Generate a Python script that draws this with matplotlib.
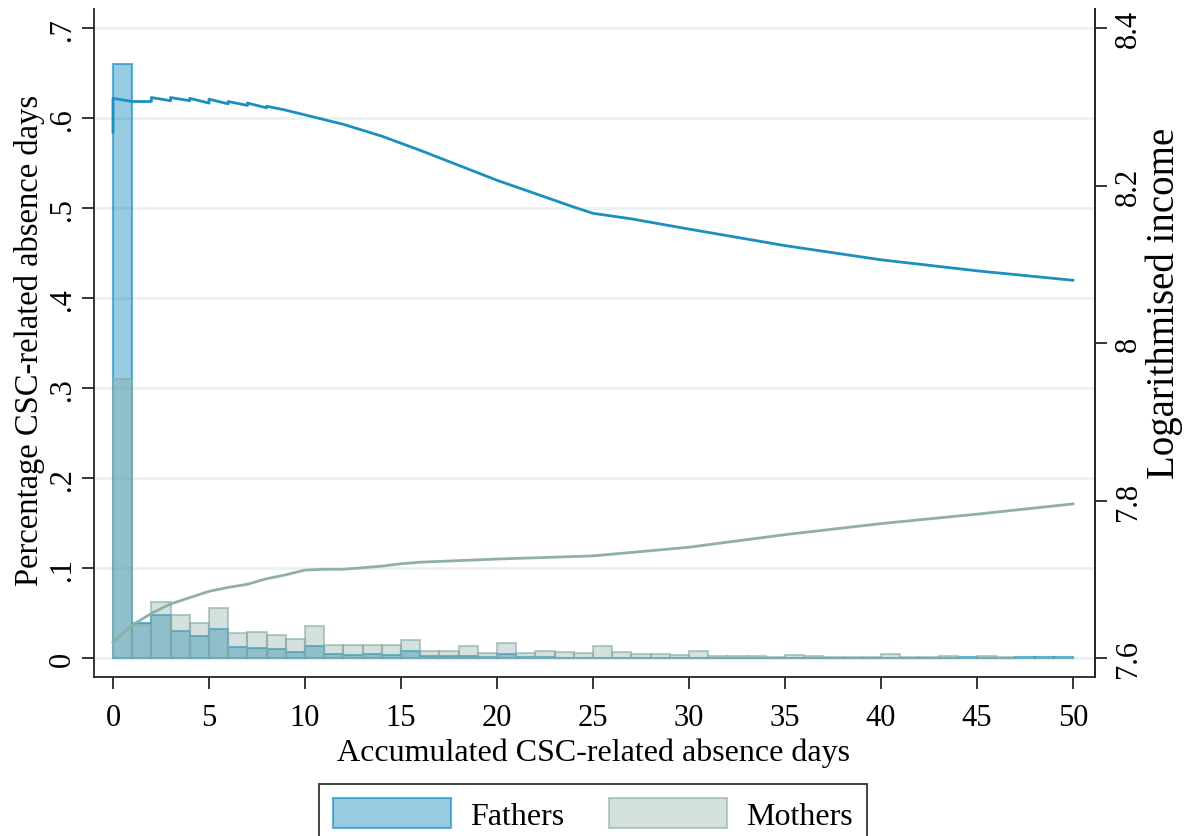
"""
Share of CSC-related absence days (bars) and log income (lines)
for fathers and mothers, by accumulated absence days.
"""
import numpy as np
import matplotlib
matplotlib.use("Agg")
import matplotlib.pyplot as plt

plt.rcParams['font.family'] = ['Liberation Serif', 'DejaVu Serif']

# histogram bins: [k, k+1) days
BINS = list(range(50))
FATHERS_SHARE = [0.660, 0.039, 0.048, 0.030, 0.025, 0.033, 0.013, 0.011, 0.010, 0.0065,
                 0.014, 0.005, 0.004, 0.0045, 0.004, 0.008, 0.0027, 0.002, 0.002, 0.0015,
                 0.0045, 0.0015, 0.0011, 0.0008, 0.0005, 0.0008, 0.0005, 0.0006, 0.0005, 0.0004,
                 0.0008, 0.0005, 0.0004, 0.0004, 0.0004, 0.0006, 0.0004, 0.0003, 0.0003, 0.0003,
                 0.0007, 0.0003, 0.0003, 0.0004, 0.0015, 0.0004, 0.0, 0.0015, 0.0015, 0.0015]
MOTHERS_SHARE = [0.310, 0.037, 0.062, 0.0485, 0.039, 0.056, 0.028, 0.029, 0.026, 0.0215,
                 0.0356, 0.0152, 0.0148, 0.0148, 0.0152, 0.0207, 0.0085, 0.0076, 0.0133, 0.0058,
                 0.0165, 0.0055, 0.0078, 0.007, 0.0058, 0.0137, 0.0075, 0.0043, 0.0042, 0.0034,
                 0.0085, 0.002, 0.0027, 0.0022, 0.0016, 0.004, 0.0022, 0.0015, 0.0012, 0.0012,
                 0.005, 0.0015, 0.001, 0.0022, 0.0003, 0.0026, 0.0015, 0.0008, 0.0008, 0.0008]

# log income curves (right axis)
FATHERS_DAYS = [0, 0, 1, 2, 2, 3, 3, 4, 4, 5, 5, 6, 6, 7, 7, 8, 8, 9, 10,
                12, 14, 16, 18, 20, 22, 24, 25, 27, 30, 35, 40, 45, 50]
FATHERS_INCOME = [8.268, 8.311, 8.307, 8.307, 8.312, 8.308, 8.312, 8.308, 8.311, 8.305, 8.310,
                  8.304, 8.307, 8.302, 8.305, 8.299, 8.301, 8.296, 8.290,
                  8.278, 8.263, 8.245, 8.226, 8.207, 8.190, 8.173, 8.165, 8.158, 8.145,
                  8.124, 8.106, 8.092, 8.080]
MOTHERS_DAYS = [0, 1, 2, 3, 4, 5, 6, 7, 8, 9, 10, 11, 12, 13, 14, 15, 16, 17, 18,
                20, 25, 30, 35, 40, 45, 50]
MOTHERS_INCOME = [7.620, 7.642, 7.657, 7.669, 7.677, 7.685, 7.690, 7.694, 7.701, 7.706,
                  7.712, 7.713, 7.713, 7.715, 7.717, 7.720, 7.722, 7.723, 7.724,
                  7.726, 7.730, 7.741, 7.757, 7.771, 7.783, 7.796]

LEFT_TICKS = [0, 0.1, 0.2, 0.3, 0.4, 0.5, 0.6, 0.7]
LEFT_LABELS = ['0', '.1', '.2', '.3', '.4', '.5', '.6', '.7']
RIGHT_TICKS = [7.6, 7.8, 8.0, 8.2, 8.4]
RIGHT_LABELS = ['7.6', '7.8', '8', '8.2', '8.4']
X_TICKS = list(range(0, 51, 5))

BLUE = (26 / 255, 143 / 255, 192 / 255)
GREEN = (134 / 255, 171 / 255, 163 / 255)
DARK = '#262626'

# axes box in pixels (left, right, top, bottom)
AX_L, AX_R, AX_T, AX_B = 94, 1095, 10, 678
W, H = 1184, 837


def main():
    fig = plt.figure(figsize=(W / 100, H / 100), dpi=100)
    ax = fig.add_axes([AX_L / W, 1 - AX_B / H, (AX_R - AX_L) / W, (AX_B - AX_T) / H])
    ax2 = ax.twinx()

    # Bars
    hf = ax.bar(BINS, FATHERS_SHARE, width=1, align='edge',
                facecolor=BLUE + (0.46,), edgecolor=BLUE + (0.68,), linewidth=1.5,
                label='Fathers', zorder=2)
    hm = ax.bar(BINS, MOTHERS_SHARE, width=1, align='edge',
                facecolor=GREEN + (0.35,), edgecolor=GREEN + (0.58,), linewidth=1.5,
                label='Mothers', zorder=3)

    ax.set_xlim(-0.99, 51.15)
    ax.set_ylim(-0.0208, 0.7214)
    ax.set_yticks(LEFT_TICKS)
    ax.set_yticklabels(LEFT_LABELS, rotation=90, va='center')
    ax.set_xticks(X_TICKS)
    ax.yaxis.grid(True, color='#e8f1f3', linewidth=2)
    ax.set_axisbelow(True)

    # Lines on right axis
    ax2.plot(FATHERS_DAYS, FATHERS_INCOME, color=BLUE, linewidth=2)
    ax2.plot(MOTHERS_DAYS, MOTHERS_INCOME, color='#8fb0a6', linewidth=2)
    ax2.set_ylim(7.6 + (-0.0208 / 0.7) * 0.8, 7.6 + (0.7214 / 0.7) * 0.8)
    ax2.set_yticks(RIGHT_TICKS)
    ax2.set_yticklabels(RIGHT_LABELS, rotation=90, va='center')

    for a in (ax, ax2):
        a.spines['top'].set_visible(False)
        for s in a.spines.values():
            s.set_color(DARK)
            s.set_linewidth(1.3)
        a.tick_params(direction='out', length=8.5, width=1.3, color=DARK,
                      labelsize=22, labelcolor='black')
    ax2.spines['left'].set_visible(False)
    ax2.spines['bottom'].set_visible(False)
    ax.tick_params(axis='y', pad=4)
    ax2.tick_params(axis='y', pad=5)
    ax.tick_params(axis='x', pad=10)

    ax.set_xlabel('Accumulated CSC-related absence days', fontsize=23, va='center')
    ax.xaxis.set_label_coords(0.4995, -(753 - AX_B) / (AX_B - AX_T))
    ax.set_ylabel('Percentage CSC-related absence days', fontsize=23.5, va='center')
    ax.yaxis.set_label_coords((30 - AX_L) / (AX_R - AX_L), (AX_B - 340) / (AX_B - AX_T))
    ax2.set_ylabel('Logarithmised income', fontsize=28, rotation=90, va='center')
    ax2.yaxis.set_label_coords((1164 - AX_L) / (AX_R - AX_L), (AX_B - 303) / (AX_B - AX_T))

    leg = fig.legend(handles=[hf, hm], labels=['Fathers', 'Mothers'],
                     loc='upper center', bbox_to_anchor=(593 / W, 1 - 785 / H),
                     ncol=2, fontsize=23, frameon=True, fancybox=False,
                     handlelength=3.7, handleheight=1.05, handletextpad=0.6,
                     columnspacing=1.4, borderpad=0.45, borderaxespad=0)
    leg.get_frame().set_edgecolor('black')
    leg.get_frame().set_linewidth(1.3)

    fig.savefig('out.png', dpi=100)


if __name__ == '__main__':
    main()
